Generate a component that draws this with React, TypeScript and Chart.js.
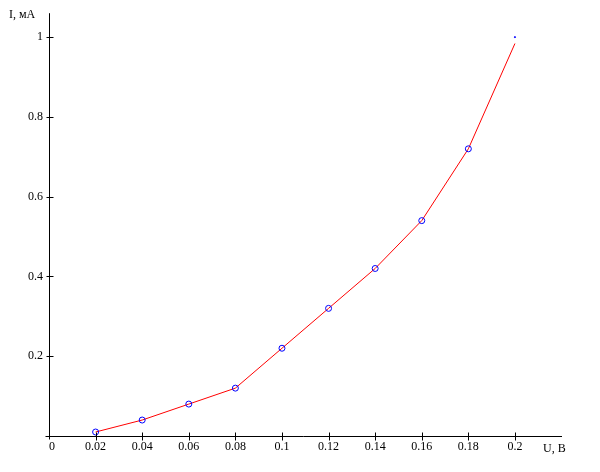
import React, { useEffect, useRef } from "react";
import { Chart, registerables } from "chart.js";

Chart.register(...registerables);

const voltages = [0.02, 0.04, 0.06, 0.08, 0.1, 0.12, 0.14, 0.16, 0.18, 0.2];
const lineCurrents = [0.01, 0.04, 0.08, 0.12, 0.22, 0.32, 0.42, 0.54, 0.72, 0.984];
const markerCurrents = [0.01, 0.04, 0.08, 0.12, 0.22, 0.32, 0.42, 0.54, 0.72, 1.0];
const xTickValues = [0, 0.02, 0.04, 0.06, 0.08, 0.1, 0.12, 0.14, 0.16, 0.18, 0.2];
const xTickLabels = ["  0", "0.02", "0.04", "0.06", "0.08", "0.1", "0.12", "0.14", "0.16", "0.18", "0.2"];
const yTickValues = [0.2, 0.4, 0.6, 0.8, 1];
const yTickLabels = ["0.2", "0.4", "0.6", "0.8", "1"];
const xTitle = "U, B";
const yTitle = "I, мА";

const FONT = "Liberation Serif, 'Times New Roman', serif";

const axesPlugin = {
  id: "axesPlugin",
  afterDraw(chart: any) {
    const { ctx, chartArea, scales } = chart;
    const xs = scales.x;
    const ys = scales.y;
    const x0 = Math.round(xs.getPixelForValue(0)) + 0.5;
    const y0 = Math.round(ys.getPixelForValue(0)) + 0.5;
    ctx.save();
    ctx.strokeStyle = "#000";
    ctx.lineWidth = 1;
    ctx.beginPath();
    // y axis
    ctx.moveTo(x0, chartArea.top);
    ctx.lineTo(x0, y0 + 3);
    // x axis
    ctx.moveTo(x0 - 4, y0);
    ctx.lineTo(chartArea.right, y0);
    // ticks
    xTickValues.forEach((v) => {
      if (v === 0) return;
      const px = Math.round(xs.getPixelForValue(v)) + 0.5;
      ctx.moveTo(px, y0 - 4);
      ctx.lineTo(px, y0 + 4);
    });
    yTickValues.forEach((v) => {
      const py = Math.round(ys.getPixelForValue(v)) + 0.5;
      ctx.moveTo(x0 - 3, py);
      ctx.lineTo(x0 + 4, py);
    });
    ctx.stroke();
    ctx.fillStyle = "#000";
    ctx.font = "12px " + FONT;
    ctx.textBaseline = "alphabetic";
    ctx.textAlign = "left";
    ctx.fillText(yTitle, 9, 18);
    ctx.fillText(xTitle, 543, 452);
    ctx.restore();
  },
};

export default function App() {
  const ref = useRef<HTMLCanvasElement | null>(null);
  useEffect(() => {
    document.body.style.margin = "0";
    if (!ref.current) return;
    const chart = new Chart(ref.current, {
      type: "scatter",
      data: {
        datasets: [
          {
            data: voltages.map((v, i) => ({ x: v, y: lineCurrents[i] })),
            showLine: true,
            borderColor: "#ff0000",
            borderWidth: 1,
            pointRadius: 0,
            clip: false as any,
            order: 2,
          },
          {
            data: voltages.map((v, i) => ({ x: v, y: markerCurrents[i] })),
            showLine: false,
            borderColor: "#0000ff",
            borderWidth: 1,
            backgroundColor: markerCurrents.map((_, i) => (i === markerCurrents.length - 1 ? "#0000ff" : "rgba(0,0,0,0)")),
            pointRadius: markerCurrents.map((_, i) => (i === markerCurrents.length - 1 ? 0.6 : 3)),
            clip: false as any,
            order: 1,
          },
        ],
      },
      options: {
        animation: false,
        responsive: false,
        layout: { padding: { top: 13, right: 38, left: 0, bottom: 0 } },
        plugins: { legend: { display: false }, tooltip: { enabled: false } },
        scales: {
          x: {
            type: "linear",
            min: 0,
            max: 0.2202,
            afterBuildTicks: (s: any) => {
              s.ticks = xTickValues.map((v) => ({ value: v }));
            },
            afterFit: (s: any) => {
              s.height = 36;
            },
            grid: { display: false, drawTicks: false },
            border: { display: false },
            ticks: {
              autoSkip: false,
              maxRotation: 0,
              padding: 4,
              color: "#000",
              font: { family: FONT, size: 12 },
              callback: (_v: any, i: number) => xTickLabels[i],
            },
          },
          y: {
            type: "linear",
            min: 0,
            max: 1.06,
            afterBuildTicks: (s: any) => {
              s.ticks = yTickValues.map((v) => ({ value: v }));
            },
            afterFit: (s: any) => {
              s.width = 49;
            },
            grid: { display: false, drawTicks: false },
            border: { display: false },
            ticks: {
              autoSkip: false,
              padding: 6,
              color: "#000",
              font: { family: FONT, size: 12 },
              callback: (_v: any, i: number) => yTickLabels[i],
            },
          },
        },
      },
      plugins: [axesPlugin],
    });
    return () => chart.destroy();
  }, []);
  return <canvas ref={ref} width={600} height={472} style={{ display: "block" }} />;
}
